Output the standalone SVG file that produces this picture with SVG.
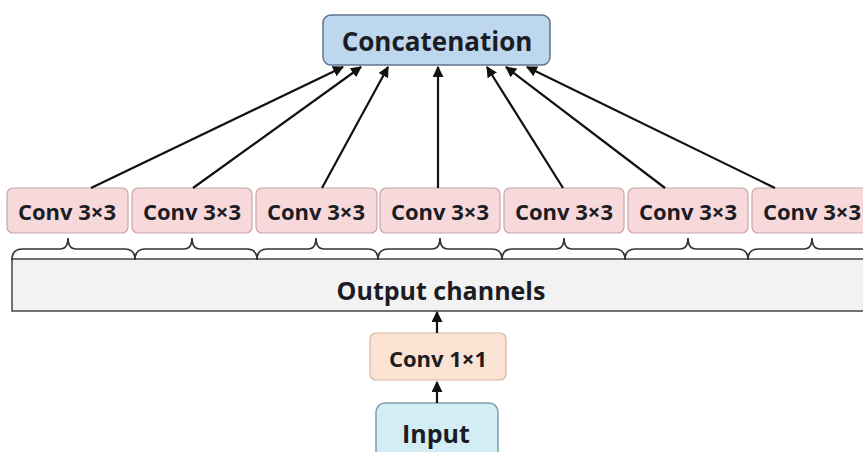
<svg xmlns="http://www.w3.org/2000/svg" width="863" height="452" viewBox="0 0 863 452">
<style>
.t{font-family:"Open Sans","Liberation Sans",sans-serif;font-weight:700;fill:#1c1c24;text-anchor:middle}
.c3{fill:#f7d9dc;stroke:#c9a3a8;stroke-width:1.2}
.br{fill:none;stroke:#333;stroke-width:1.6}
.ar{stroke:#111;stroke-width:2.2;fill:none;marker-end:url(#ah)}
</style>
<defs>
<marker id="ah" viewBox="0 0 10 10" refX="9" refY="5" markerWidth="5" markerHeight="5" orient="auto" markerUnits="strokeWidth">
<path d="M0,0 L10,5 L0,10 z" fill="#111"/>
</marker>
</defs>
<rect width="863" height="452" fill="#fff"/>
<g id="output-channels">
<rect x="12" y="259" width="870" height="52" fill="#f2f2f2" stroke="#444" stroke-width="1.5"/>
<text class="t" x="441" y="300" font-size="25">Output channels</text>
</g>
<g id="braces">
<path class="br" d="M12,260 Q12,249 22,249 L60,249 Q68,249 68,238 Q68,249 76,249 L125,249 Q135,249 135,260"/>
<path class="br" d="M135,260 Q135,249 145,249 L184,249 Q192,249 192,238 Q192,249 200,249 L247,249 Q257,249 257,260"/>
<path class="br" d="M257,260 Q257,249 267,249 L308,249 Q316,249 316,238 Q316,249 324,249 L368,249 Q378,249 378,260"/>
<path class="br" d="M378,260 Q378,249 388,249 L432,249 Q440,249 440,238 Q440,249 448,249 L492,249 Q502,249 502,260"/>
<path class="br" d="M502,260 Q502,249 512,249 L556,249 Q564,249 564,238 Q564,249 572,249 L615,249 Q625,249 625,260"/>
<path class="br" d="M625,260 Q625,249 635,249 L680,249 Q688,249 688,238 Q688,249 696,249 L738,249 Q748,249 748,260"/>
<path class="br" d="M748,260 Q748,249 758,249 L804,249 Q812,249 812,238 Q812,249 820,249 L870,249"/>
</g>
<g id="conv3-1"><rect class="c3" x="7" y="188" width="121" height="45" rx="6"/><text class="t" x="67" y="220" font-size="22">Conv 3×3</text></g>
<g id="conv3-2"><rect class="c3" x="132" y="188" width="120" height="45" rx="6"/><text class="t" x="192" y="220" font-size="22">Conv 3×3</text></g>
<g id="conv3-3"><rect class="c3" x="256" y="188" width="121" height="45" rx="6"/><text class="t" x="316" y="220" font-size="22">Conv 3×3</text></g>
<g id="conv3-4"><rect class="c3" x="380" y="188" width="120" height="45" rx="6"/><text class="t" x="440" y="220" font-size="22">Conv 3×3</text></g>
<g id="conv3-5"><rect class="c3" x="504" y="188" width="120" height="45" rx="6"/><text class="t" x="564" y="220" font-size="22">Conv 3×3</text></g>
<g id="conv3-6"><rect class="c3" x="628" y="188" width="120" height="45" rx="6"/><text class="t" x="688" y="220" font-size="22">Conv 3×3</text></g>
<g id="conv3-7"><rect class="c3" x="752" y="188" width="125" height="45" rx="6"/><text class="t" x="812" y="220" font-size="22">Conv 3×3</text></g>
<g id="concatenation">
<rect x="323" y="15" width="227" height="50" rx="8" fill="#bdd7ee" stroke="#5f7590" stroke-width="1.5"/>
<text class="t" x="437" y="51" font-size="26" fill="#1a2236">Concatenation</text>
</g>
<g id="conv1">
<rect x="370" y="333" width="136" height="47" rx="6" fill="#fbe3d4" stroke="#d9b59f" stroke-width="1.2"/>
<text class="t" x="438" y="367" font-size="22">Conv 1×1</text>
</g>
<g id="input">
<rect x="376" y="403" width="122" height="60" rx="9" fill="#d3edf4" stroke="#7f9fab" stroke-width="1.5"/>
<text class="t" x="436" y="443" font-size="25">Input</text>
</g>
<g id="connectors">
<line class="ar" x1="91" y1="188" x2="343" y2="67"/>
<line class="ar" x1="193" y1="188" x2="361" y2="67"/>
<line class="ar" x1="322" y1="188" x2="388" y2="67"/>
<line class="ar" x1="438" y1="188" x2="438" y2="67"/>
<line class="ar" x1="563" y1="188" x2="487" y2="67"/>
<line class="ar" x1="665" y1="188" x2="506" y2="67"/>
<line class="ar" x1="775" y1="188" x2="527" y2="67"/>
<line class="ar" x1="437" y1="333" x2="437" y2="312"/>
<line class="ar" x1="437" y1="403" x2="437" y2="382"/>
</g>
</svg>
